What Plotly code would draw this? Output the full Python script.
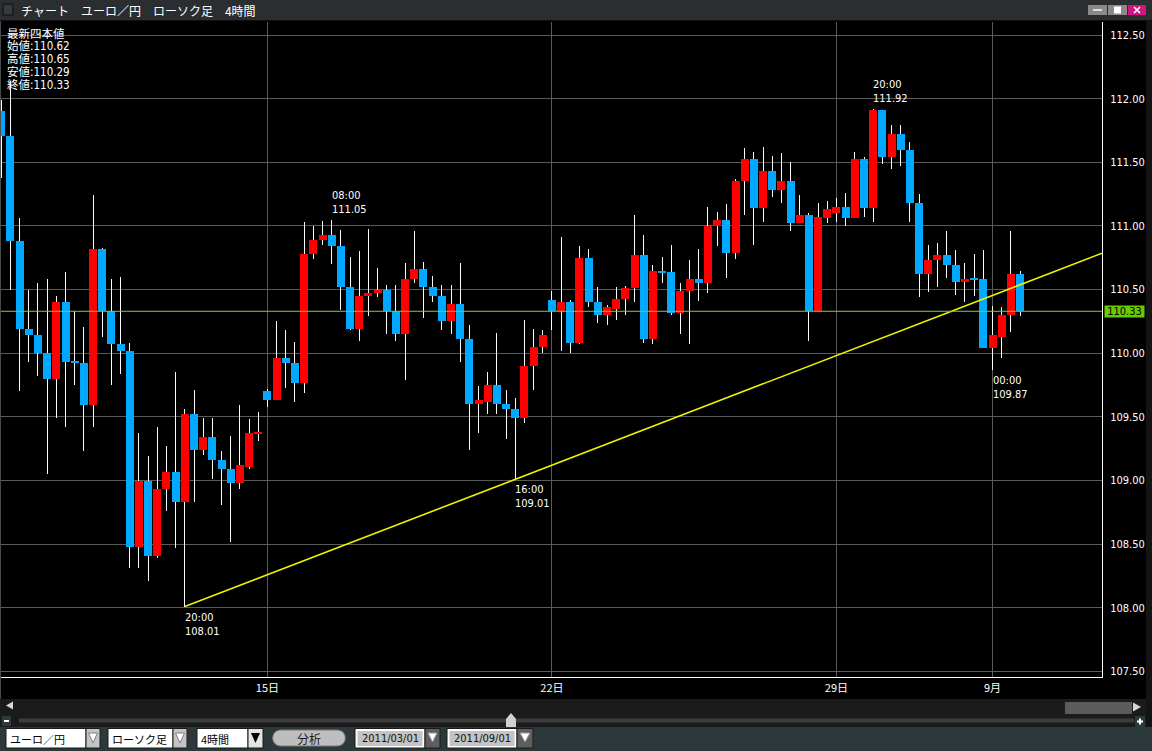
import plotly.graph_objects as go

# ---------------- data ----------------
opens = [111.90, 111.71, 110.88, 110.19, 110.14, 110.00, 109.80, 110.40, 109.94, 109.92,
         109.59, 110.82, 110.33, 110.07, 110.02, 108.48, 109.00, 108.41, 108.93, 109.07,
         108.83, 109.52, 109.24, 109.34, 109.16, 109.09, 108.98, 109.11, 109.37, 109.70,
         109.63, 109.96, 109.92, 109.77, 110.78, 110.89, 110.93, 110.84, 110.52, 110.19,
         110.45, 110.47, 110.50, 110.33, 110.15, 110.58, 110.66, 110.52, 110.45, 110.25,
         110.39, 110.11, 109.60, 109.62, 109.75, 109.60, 109.56, 109.49, 109.90, 110.05,
         110.42, 110.33, 110.40, 110.08, 110.75, 110.40, 110.30, 110.35, 110.43, 110.51,
         110.77, 110.11, 110.65, 110.64, 110.32, 110.49, 110.58, 110.55, 111.00, 111.05,
         110.79, 111.35, 111.53, 111.14, 111.43, 111.28, 111.35, 111.02, 111.09, 110.33,
         111.06, 111.10, 111.15, 111.06, 111.53, 111.14, 111.91, 111.54, 111.72, 111.60,
         111.18, 110.62, 110.73, 110.77, 110.69, 110.56, 110.59, 110.58, 110.04, 110.13,
         110.30, 110.62]
highs = [111.99, 112.14, 111.06, 110.50, 110.55, 110.58, 110.45, 110.64, 110.33, 110.21,
         111.24, 110.83, 110.58, 110.60, 110.08, 109.37, 109.19, 109.42, 109.27, 109.85,
         109.56, 109.71, 109.49, 109.49, 109.23, 109.35, 109.59, 109.48, 109.54, 109.72,
         110.25, 110.18, 110.09, 111.03, 111.00, 111.04, 111.05, 110.97, 110.76, 110.80,
         110.98, 110.67, 110.54, 110.54, 110.71, 110.96, 110.72, 110.61, 110.54, 110.54,
         110.71, 110.22, 109.74, 109.85, 110.16, 109.71, 109.65, 110.26, 110.19, 110.18,
         110.49, 110.91, 110.42, 110.84, 110.82, 110.52, 110.38, 110.52, 110.53, 111.09,
         110.93, 110.69, 110.76, 110.85, 110.55, 110.73, 110.82, 111.15, 111.11, 111.17,
         111.37, 111.61, 111.58, 111.62, 111.55, 111.57, 111.50, 111.24, 111.10, 111.18,
         111.20, 111.22, 111.26, 111.58, 111.54, 111.92, 111.91, 111.79, 111.79, 111.66,
         111.25, 110.85, 110.87, 110.96, 110.81, 110.71, 110.78, 110.81, 110.37, 110.36,
         110.96, 110.65]
lows = [111.38, 110.50, 109.70, 109.93, 109.82, 109.05, 109.49, 109.42, 109.75, 109.23,
        109.42, 110.13, 109.75, 109.84, 108.31, 108.31, 108.21, 108.39, 108.76, 108.47,
        108.01, 108.83, 109.20, 109.01, 108.81, 108.52, 108.93, 109.09, 109.31, 109.58,
        109.63, 109.73, 109.62, 109.69, 110.74, 110.85, 110.70, 110.34, 110.18, 110.10,
        110.29, 110.44, 110.15, 110.10, 109.79, 110.55, 110.28, 110.40, 110.18, 110.15,
        109.93, 109.24, 109.37, 109.52, 109.52, 109.33, 109.01, 109.45, 109.71, 110.00,
        110.18, 110.02, 110.00, 110.07, 110.36, 110.24, 110.22, 110.26, 110.30, 110.40,
        110.08, 110.07, 110.55, 110.30, 110.15, 110.07, 110.41, 110.47, 110.84, 110.59,
        110.74, 111.09, 110.85, 111.03, 111.23, 111.18, 110.96, 111.02, 110.10, 110.33,
        111.02, 111.03, 111.00, 111.06, 111.07, 111.03, 111.49, 111.45, 111.47, 111.03,
        110.44, 110.48, 110.52, 110.59, 110.46, 110.40, 110.45, 110.04, 109.87, 109.96,
        110.17, 110.29]
closes = [111.71, 110.88, 110.19, 110.14, 110.00, 109.80, 110.40, 109.93, 109.92, 109.59,
          110.82, 110.33, 110.07, 110.02, 108.48, 109.00, 108.41, 108.93, 109.07, 108.83,
          109.52, 109.24, 109.34, 109.16, 109.09, 108.98, 109.12, 109.37, 109.38, 109.63,
          109.96, 109.92, 109.77, 110.78, 110.89, 110.93, 110.84, 110.52, 110.19, 110.45,
          110.47, 110.50, 110.33, 110.15, 110.58, 110.66, 110.52, 110.45, 110.25, 110.39,
          110.11, 109.60, 109.63, 109.75, 109.60, 109.56, 109.49, 109.90, 110.05, 110.14,
          110.33, 110.40, 110.08, 110.75, 110.40, 110.30, 110.36, 110.43, 110.51, 110.77,
          110.11, 110.65, 110.63, 110.32, 110.49, 110.58, 110.55, 111.00, 111.05, 110.79,
          111.35, 111.53, 111.14, 111.43, 111.28, 111.35, 111.02, 111.09, 110.33, 111.07,
          111.13, 111.15, 111.06, 111.53, 111.14, 111.91, 111.54, 111.72, 111.60, 111.18,
          110.62, 110.73, 110.77, 110.69, 110.56, 110.58, 110.58, 110.04, 110.14, 110.30,
          110.62, 110.33]

day_tick_index = [29, 60, 91, 108]
day_tick_text = ["15日", "22日", "29日", "9月"]
price_ticks = [107.5, 108.0, 108.5, 109.0, 109.5, 110.0, 110.5, 111.0, 111.5, 112.0, 112.5]

mark_index = [20, 36, 56, 95, 108]
mark_side = ["low", "high", "low", "high", "low"]
mark_time = ["20:00", "08:00", "16:00", "20:00", "00:00"]
trend_anchor = [20, 56]

window_title = "チャート　ユーロ／円　ローソク足　4時間"
info_title = "最新四本値"
info_labels = ["始値", "高値", "安値", "終値"]
combo_texts = ["ユーロ／円", "ローソク足", "4時間"]
button_text = "分析"
date_texts = ["2011/03/01", "2011/09/01"]

# ---------------- geometry / style ----------------
W, H = 1152, 751
PL, PR, PT, PB = 1, 1102, 22, 677
X_RANGE = [-0.03, 119.93]
Y_RANGE = [107.457, 112.6025]
px_per_bar = (PR - PL) / (X_RANGE[1] - X_RANGE[0])

UP = "#ff0000"
DOWN = "#00a8ff"
GRID = "#5a5a5a"
NUM_FONT = "Liberation Sans Narrow, DejaVu Sans Condensed, Noto Sans CJK JP, sans-serif"
JP_FONT = "Noto Sans CJK JP, Noto Sans, sans-serif"


def px(x):
    return x / W


def py(y):
    return 1 - y / H


n = len(opens)
idx = list(range(n))
body_base = [min(o, c) for o, c in zip(opens, closes)]
body_h = [abs(c - o) for o, c in zip(opens, closes)]
body_col = [UP if c >= o else DOWN for o, c in zip(opens, closes)]

fig = go.Figure()

# wicks (thin bars, drawn first so bodies cover them)
fig.add_trace(go.Bar(
    x=idx, base=lows, y=[h - l for h, l in zip(highs, lows)],
    width=1.0 / px_per_bar,
    marker=dict(color="rgba(255,255,255,0.99)", line=dict(width=0)),
    hoverinfo="skip", showlegend=False))

# bodies
fig.add_trace(go.Bar(
    x=idx, base=body_base, y=body_h,
    width=8.0 / px_per_bar,
    marker=dict(color=body_col, line=dict(width=0)),
    hoverinfo="skip", showlegend=False))

# trend line through two marked lows, extended to the right edge
a, b = trend_anchor
slope = (lows[b] - lows[a]) / (b - a)
tx = [a, X_RANGE[1]]
ty = [lows[a] + slope * (x - a) for x in tx]
fig.add_trace(go.Scatter(x=tx, y=ty, mode="lines",
                         line=dict(color="#f2f200", width=1.6),
                         hoverinfo="skip", showlegend=False))

shapes = []
annotations = []


def rect(x0, y0, x1, y1, fill, line=None, lw=0):
    shapes.append(dict(type="rect", xref="paper", yref="paper",
                       x0=px(x0), x1=px(x1), y0=py(y1), y1=py(y0),
                       fillcolor=fill, line=dict(width=lw, color=line or fill),
                       layer="above"))


def seg(x0, y0, x1, y1, color, lw=1):
    shapes.append(dict(type="line", xref="paper", yref="paper",
                       x0=px(x0), x1=px(x1), y0=py(y0), y1=py(y1),
                       line=dict(color=color, width=lw), layer="above"))


def poly(points, fill, line=None, lw=0):
    d = "M " + " L ".join(f"{px(x):.6f},{py(y):.6f}" for x, y in points) + " Z"
    shapes.append(dict(type="path", xref="paper", yref="paper", path=d,
                       fillcolor=fill, line=dict(width=lw, color=line or fill),
                       layer="above"))


def text(x, y, s, size=12, color="white", xanchor="left", family=JP_FONT):
    annotations.append(dict(xref="paper", yref="paper", x=px(x), y=py(y),
                            text=s, showarrow=False, xanchor=xanchor,
                            yanchor="middle", font=dict(size=size, color=color,
                                                        family=family),
                            borderpad=0))


# last price line + label
last = closes[-1]
shapes.append(dict(type="line", xref="x domain", yref="y", x0=0, x1=1,
                   y0=last, y1=last, line=dict(color="#7ed321", width=1),
                   layer="above"))
annotations.append(dict(xref="paper", yref="y", x=px(1104), y=last,
                        text=f"{last:.2f}", showarrow=False, xanchor="left",
                        yanchor="middle", bgcolor="#66cc00", width=37, height=9,
                        borderpad=1, font=dict(size=11, color="#000000",
                                               family=NUM_FONT)))

# high / low markers
for i, side, t in zip(mark_index, mark_side, mark_time):
    val = highs[i] if side == "high" else lows[i]
    annotations.append(dict(xref="x", yref="y", x=i, y=val,
                            text=f"{t}<br>{val:.2f}", showarrow=False,
                            xanchor="left", align="left",
                            yanchor="bottom" if side == "high" else "top",
                            yshift=3 if side == "high" else -3, xshift=-1,
                            borderpad=0,
                            font=dict(size=11, color="white", family=NUM_FONT)))

# info block (latest OHLC)
text(6, 33, info_title, 11.5)
for k, (lab, v) in enumerate(zip(info_labels, [opens[-1], highs[-1], lows[-1], closes[-1]])):
    text(6, 46 + 13 * k, f"{lab}:{v:.2f}", 11.5, family=NUM_FONT)

# ---- window chrome ----
rect(0, 0, W, 20, "#2b2e30")
seg(0, 20.5, W, 20.5, "#111111")
rect(3, 4, 13, 15, "#3a3a3a", "#0c0c0c", 1)
text(20, 10.5, window_title, 12)
rect(1088, 5, 1107, 15, "#8a8a8a")
seg(1093, 10, 1102, 10, "#dcdcdc", 2)
rect(1108, 5, 1127, 15, "#8a8a8a")
rect(1114, 6.5, 1121, 13.5, "#ffffff")
rect(1128, 5, 1146, 15, "#d3157f")
seg(1134, 7, 1140, 13, "#ffffff", 1.6)
seg(1140, 7, 1134, 13, "#ffffff", 1.6)

# left border of chart pane and right edge
seg(0.5, 21, 0.5, 699, "#4a4a4a")
rect(1146, 21, W, 727, "#141414")

# scroll bar row
rect(0, 699, 1146, 715, "#1b1b1b")
poly([(6, 705.5), (13, 701.5), (13, 709.5)], "#d8d8d8")
rect(1065, 702, 1132, 714, "#5c5c5c")
poly([(1133, 702.5), (1133, 711.5), (1141, 707)], "#d8d8d8")

# zoom slider row
rect(0, 715, 1146, 727, "#1b1b1b")
rect(2, 716, 11, 726, "#2c3a3c")
seg(4, 721, 9, 721, "#ffffff", 2)
rect(19, 718.5, 1134, 722.5, "#3d3d3d")
poly([(506, 727), (506, 719), (511, 713), (516, 719), (516, 727)], "#d0d0d0")
rect(1135, 716, 1145, 727, "#2c3a3c")
seg(1137, 721.5, 1143, 721.5, "#ffffff", 2)
seg(1140, 718.5, 1140, 724.5, "#ffffff", 2)

# control row
rect(0, 727, W, 751, "#2c3839")
combo_boxes = [(6, 86, 100, "light"), (108, 173, 187, "light"), (197, 248, 263, "dark")]
for (x0, xb, x1, kind), s in zip(combo_boxes, combo_texts):
    rect(x0, 728.5, xb, 748, "#ffffff", "#1a1a1a", 1)
    if kind == "light":
        rect(xb, 728.5, x1, 748, "#c4c4c4", "#1a1a1a", 1)
        poly([(xb + 2.5, 733), (x1 - 2.5, 733), ((xb + x1) / 2, 743)], "#ffffff", "#808080", 1)
    else:
        rect(xb, 728.5, x1, 748, "#e4e4e4", "#1a1a1a", 1)
        poly([(xb + 3, 733), (x1 - 3, 733), ((xb + x1) / 2, 743)], "#000000")
    text(x0 + 3, 738.5, s, 11, "#000000")

shapes.append(dict(type="path", xref="paper", yref="paper",
                   path=(f"M {px(281)},{py(730)} L {px(337)},{py(730)} "
                         f"C {px(348)},{py(730)} {px(348)},{py(746)} {px(337)},{py(746)} "
                         f"L {px(281)},{py(746)} "
                         f"C {px(270)},{py(746)} {px(270)},{py(730)} {px(281)},{py(730)} Z"),
                   fillcolor="#bebebe", line=dict(width=1, color="#7a7a7a"), layer="above"))
text(309, 738, button_text, 12, "#1a1a1a", xanchor="center")

for (x0, xb, x1), s in zip([(355, 425, 440), (447, 517, 533)], date_texts):
    rect(x0, 728.5, xb, 748, "#ffffff", "#1a1a1a", 1)
    rect(x0 + 2.5, 731, xb - 2.5, 746, "#c3c3c3")
    text((x0 + xb) / 2, 738.5, s, 11, "#111111", xanchor="center", family=NUM_FONT)
    rect(xb, 728.5, x1, 748, "#5e5e5e", "#1a1a1a", 1)
    poly([(xb + 3, 733), (x1 - 3, 733), ((xb + x1) / 2, 742)], "#ffffff", "#9a9a9a", 1)

fig.update_layout(
    width=W, height=H, autosize=False,
    margin=dict(l=0, r=0, t=0, b=0, pad=0),
    paper_bgcolor="#000000", plot_bgcolor="#000000",
    barmode="overlay", bargap=0, bargroupgap=0,
    showlegend=False, hovermode=False,
    shapes=shapes, annotations=annotations,
    xaxis=dict(domain=[px(PL), px(PR)], range=X_RANGE, type="linear",
               tickmode="array", tickvals=day_tick_index, ticktext=day_tick_text,
               showgrid=True, gridcolor=GRID, gridwidth=1, zeroline=False,
               showline=True, linecolor="#ffffff", linewidth=1, ticks="",
               tickfont=dict(size=11, color="white", family=JP_FONT),
               ticklabelstandoff=1, fixedrange=True),
    yaxis=dict(domain=[py(PB), py(PT)], range=Y_RANGE, side="right",
               tickmode="array", tickvals=price_ticks,
               ticktext=[f"{v:.2f}" for v in price_ticks],
               showgrid=True, gridcolor=GRID, gridwidth=1, zeroline=False,
               showline=True, linecolor="#ffffff", linewidth=1, ticks="",
               tickfont=dict(size=11, color="white", family=NUM_FONT),
               ticklabelstandoff=5, fixedrange=True),
)

fig.write_html("out.html", config={"displayModeBar": False})
